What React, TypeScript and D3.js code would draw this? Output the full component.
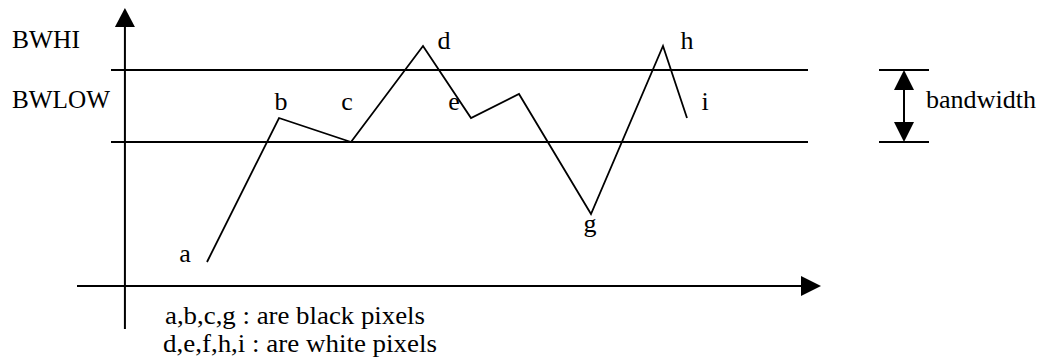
import React from 'react';
import * as d3 from 'd3';

// pixel sequence a..i (x in steps, y in band units: BWLOW = 0, BWHI = 3)
const pointLabels = ['a', 'b', 'c', 'd', 'e', 'f', 'g', 'h', 'i'];
const pointX = [0, 3, 6, 9, 11, 13, 16, 19, 20];
const pointY = [-5, 1, 0, 4, 1, 2, -3, 4, 1];
// which points get a letter (f is left unlabeled in the figure)
const shownLabels = ['a', 'b', 'c', 'd', 'e', 'g', 'h', 'i'];

const bandLevels = [0, 3];
const bandNames = ['BWLOW', 'BWHI'];
const notes = ['a,b,c,g : are black pixels', 'd,e,f,h,i : are white pixels'];

const W = 1037;
const H = 360;
const FONT = "'Liberation Serif', 'Times New Roman', Times, serif";

// label offsets relative to each point (dx, dy)
const labelOffset: Record<string, [number, number]> = {
  a: [-22, 0],
  b: [2, -8],
  c: [-4, -32],
  d: [21, 3],
  e: [-17, -8],
  g: [-1, 18],
  h: [24, 3],
  i: [18, -8],
};

export default function App() {
  const x = d3.scaleLinear().domain([0, 20]).range([207, 687]);
  const y = d3.scaleLinear().domain([0, 3]).range([142, 70]);

  const axisX = x(-3.42);
  const axisY = y(-6);
  const yTop = y(5.58);

  const pts = pointX.map((v, i) => ({ k: pointLabels[i], x: x(v), y: y(pointY[i]) }));
  const line = d3.line<{ x: number; y: number }>().x(d => d.x).y(d => d.y);

  const bwX = 904;

  return (
    <svg width={W} height={H} style={{ position: 'absolute', left: 0, top: 0, background: '#fff', fontFamily: FONT }}
      fontSize={26} fill="#000">
      {/* y axis */}
      <line x1={axisX} x2={axisX} y1={yTop + 18} y2={329} stroke="#000" strokeWidth={2} />
      <path d={`M${axisX},${yTop} L${axisX - 10},${yTop + 19} L${axisX + 10},${yTop + 19} Z`} fill="#000" />
      {/* x axis */}
      <line x1={77} x2={803} y1={axisY} y2={axisY} stroke="#000" strokeWidth={2} />
      <path d={`M821,${axisY} L801,${axisY - 10} L801,${axisY + 10} Z`} fill="#000" />

      {/* band lines */}
      {bandLevels.map((b, i) => (
        <g key={i}>
          <line x1={111} x2={808} y1={y(b)} y2={y(b)} stroke="#000" strokeWidth={2} />
          <text x={12} y={i === 0 ? 108 : 48} textLength={i === 0 ? 98 : 68} lengthAdjust="spacingAndGlyphs">
            {bandNames[i]}
          </text>
        </g>
      ))}

      {/* pixel trace */}
      <path d={line(pts) || ''} fill="none" stroke="#000" strokeWidth={1.8} />
      {pts.filter(p => shownLabels.includes(p.k)).map(p => (
        <text key={p.k} x={p.x + labelOffset[p.k][0]} y={p.y + labelOffset[p.k][1]} textAnchor="middle">
          {p.k}
        </text>
      ))}

      {/* bandwidth indicator */}
      <line x1={879} x2={929} y1={y(3)} y2={y(3)} stroke="#000" strokeWidth={2} />
      <line x1={879} x2={929} y1={y(0)} y2={y(0)} stroke="#000" strokeWidth={2} />
      <line x1={bwX} x2={bwX} y1={y(3) + 18} y2={y(0) - 18} stroke="#000" strokeWidth={2} />
      <path d={`M${bwX},${y(3)} L${bwX - 10},${y(3) + 20} L${bwX + 10},${y(3) + 20} Z`} fill="#000" />
      <path d={`M${bwX},${y(0)} L${bwX - 10},${y(0) - 20} L${bwX + 10},${y(0) - 20} Z`} fill="#000" />
      <text x={926} y={108} textLength={110} lengthAdjust="spacingAndGlyphs">bandwidth</text>

      {/* notes under the x axis */}
      <text x={165} y={324} textLength={260} lengthAdjust="spacingAndGlyphs">{notes[0]}</text>
      <text x={163} y={352} textLength={274} lengthAdjust="spacingAndGlyphs">{notes[1]}</text>
    </svg>
  );
}
